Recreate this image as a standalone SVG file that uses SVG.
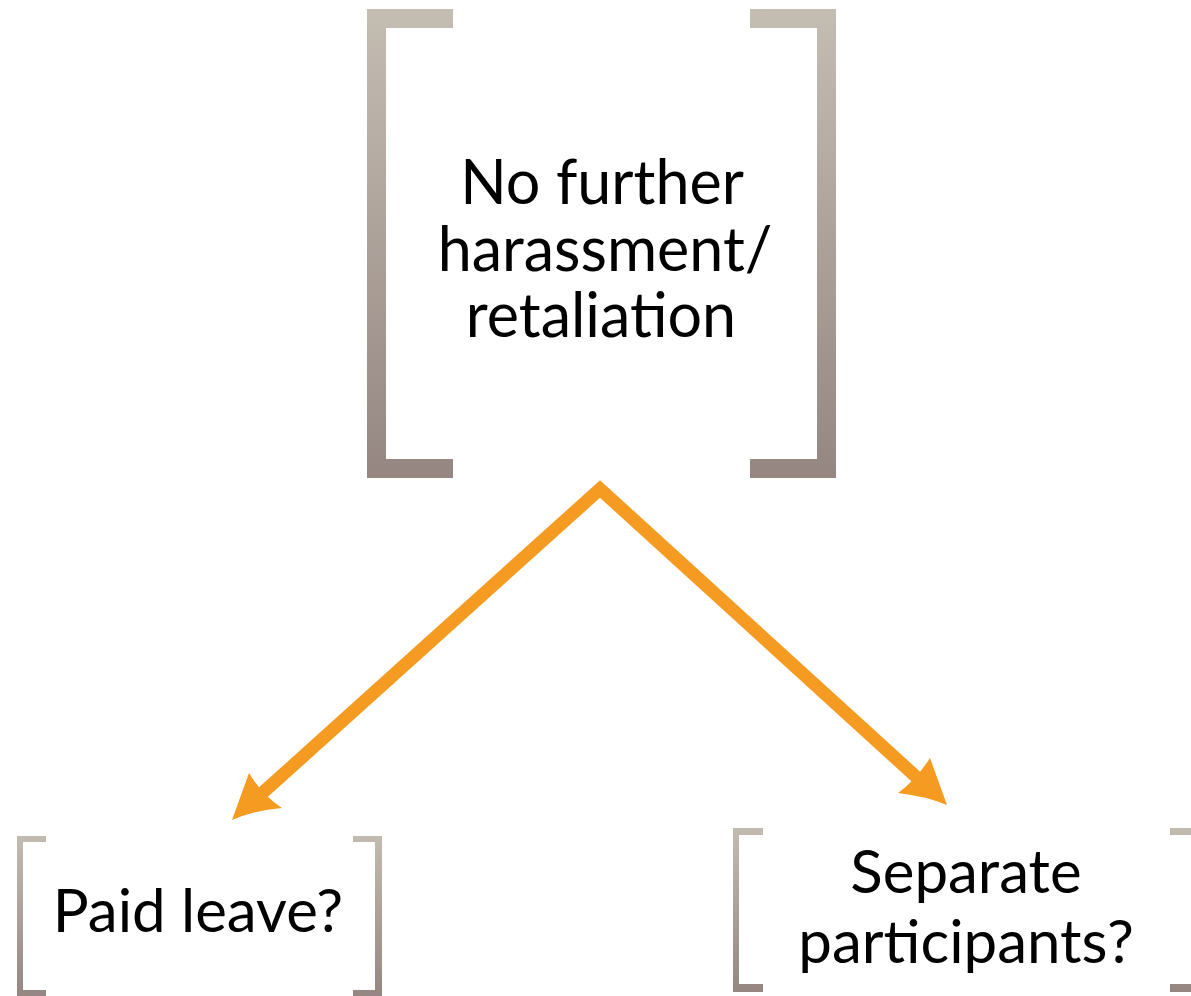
<svg xmlns="http://www.w3.org/2000/svg" width="1191" height="996" viewBox="0 0 1191 996">
  <defs>
    <linearGradient id="brTop" gradientUnits="userSpaceOnUse" x1="0" y1="9" x2="0" y2="478">
      <stop offset="0" stop-color="#c4bdb2"/>
      <stop offset="1" stop-color="#958682"/>
    </linearGradient>
    <linearGradient id="brLeft" gradientUnits="userSpaceOnUse" x1="0" y1="836" x2="0" y2="996">
      <stop offset="0" stop-color="#c2bbb0"/>
      <stop offset="1" stop-color="#958682"/>
    </linearGradient>
    <linearGradient id="brRight" gradientUnits="userSpaceOnUse" x1="0" y1="828" x2="0" y2="992">
      <stop offset="0" stop-color="#c2bbb0"/>
      <stop offset="1" stop-color="#958682"/>
    </linearGradient>
    <style>
      .label { font-family: Lato, "Liberation Sans", sans-serif; fill: #000; text-anchor: middle; }
      .big { font-size: 61px; }
      .small { font-size: 60px; }
      .conn { fill: none; stroke: #f59b22; stroke-width: 13; stroke-linejoin: miter; }
      .head { fill: #f59b22; }
    </style>
  </defs>

  <!-- main node -->
  <g id="node-main">
    <path fill="url(#brTop)" d="M367 9H453V28H386V459H453V478H367Z"/>
    <path fill="url(#brTop)" d="M836 9H750V28H817V459H750V478H836Z"/>
    <text class="label big" x="602" y="204">No further</text>
    <text class="label big" x="605" y="271">harassment/</text>
    <text class="label big" x="601" y="337">retaliation</text>
  </g>

  <!-- left child -->
  <g id="node-paid-leave">
    <path fill="url(#brLeft)" d="M17 836H46V842H23V990H46V996H17Z"/>
    <path fill="url(#brLeft)" d="M382 836H353V842H375V990H353V996H382Z"/>
    <text class="label small" x="198" y="932">Paid leave?</text>
  </g>

  <!-- right child -->
  <g id="node-separate">
    <path fill="url(#brRight)" d="M733 828H763V835H739V984H763V992H733Z"/>
    <path fill="url(#brRight)" d="M1191 828H1170V835H1191Z"/>
    <path fill="url(#brRight)" d="M1191 984H1170V992H1191Z"/>
    <text class="label small" x="966" y="893">Separate</text>
    <text class="label small" x="966" y="963">participants?</text>
  </g>

  <!-- connectors -->
  <g id="connectors">
    <path class="conn" d="M258 797L600 489L924 784"/>
    <path class="head" d="M232 820L249 773Q262 795 282 808Q255 810 232 820Z"/>
    <path class="head" d="M947 805L930 758Q916 780 898 793Q925 796 947 805Z"/>
  </g>
</svg>
